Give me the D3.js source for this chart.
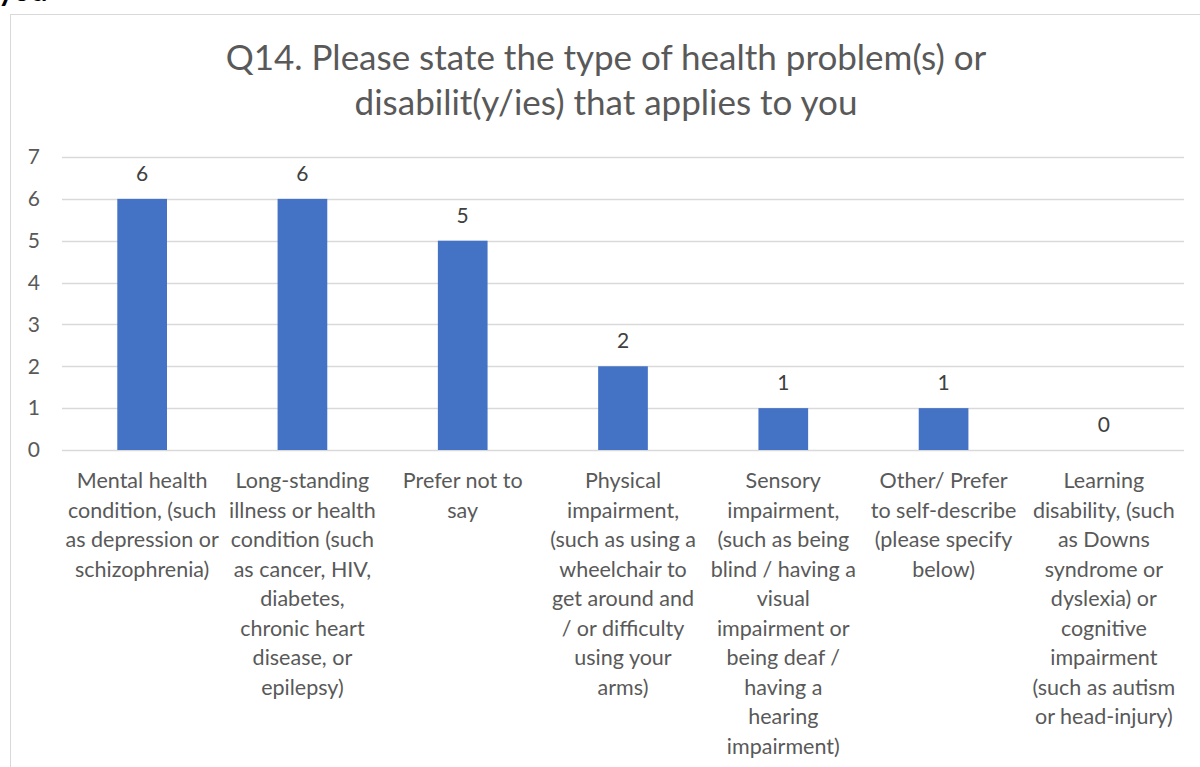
<!DOCTYPE html>
<html>
<head>
<meta charset="utf-8">
<script src="https://cdn.jsdelivr.net/npm/d3@7"></script>
<style>
  body { margin: 0; background: #fff; }
  svg { display: block; font-family: Lato, "Open Sans", sans-serif; }
</style>
</head>
<body>
<svg id="chart" width="1200" height="767"></svg>
<script>
var titleLines = ['Q14. Please state the type of health problem(s) or', 'disabilit(y/ies) that applies to you'];

var categories = [
  ['Mental health', 'condition, (such', 'as depression or', 'schizophrenia)'],
  ['Long-standing', 'illness or health', 'condition (such', 'as cancer, HIV,', 'diabetes,', 'chronic heart', 'disease, or', 'epilepsy)'],
  ['Prefer not to', 'say'],
  ['Physical', 'impairment,', '(such as using a', 'wheelchair to', 'get around and', '/ or difficulty', 'using your', 'arms)'],
  ['Sensory', 'impairment,', '(such as being', 'blind / having a', 'visual', 'impairment or', 'being deaf /', 'having a', 'hearing', 'impairment)'],
  ['Other/ Prefer', 'to self-describe', '(please specify', 'below)'],
  ['Learning', 'disability, (such', 'as Downs', 'syndrome or', 'dyslexia) or', 'cognitive', 'impairment', '(such as autism', 'or head-injury)']
];
var values = [6, 6, 5, 2, 1, 1, 0];
var yTicks = [0, 1, 2, 3, 4, 5, 6, 7];

var svg = d3.select('#chart');
var width = 1200, height = 767;

// the heading of the page above, mostly cut off
svg.append('text')
  .attr('x', -2).attr('y', 1)
  .attr('font-size', 30).attr('font-weight', 'bold')
  .attr('fill', '#000')
  .text('you');

// chart frame
svg.append('rect')
  .attr('x', 10.5).attr('y', 14.5)
  .attr('width', 1200).attr('height', 800)
  .attr('fill', '#fff').attr('stroke', '#d9d9d9');

// title
svg.append('g').selectAll('text')
  .data(titleLines)
  .enter().append('text')
  .attr('x', 606).attr('y', (d, i) => 70 + i * 45)
  .attr('text-anchor', 'middle')
  .attr('font-size', 35)
  .attr('fill', '#595959')
  .text(d => d);

var margin = {left: 62, right: 16};
var x = d3.scaleBand()
  .domain(d3.range(categories.length))
  .range([margin.left, width - margin.right])
  .paddingInner(0.69).paddingOuter(0.345);
var y = d3.scaleLinear().domain([0, 7]).range([450, 157]);

// gridlines
svg.append('g').selectAll('line')
  .data(yTicks)
  .enter().append('line')
  .attr('x1', margin.left).attr('x2', width - margin.right)
  .attr('y1', d => Math.round(y(d)) + 0.5).attr('y2', d => Math.round(y(d)) + 0.5)
  .attr('stroke', '#d9d9d9').attr('stroke-width', 1.3);

// y axis labels
var yAxis = d3.axisLeft(y).tickValues(yTicks).tickFormat(d3.format('d')).tickSize(0).tickPadding(0);
var yg = svg.append('g').attr('transform', 'translate(40,0)').call(yAxis);
yg.select('.domain').remove();
yg.selectAll('text')
  .attr('font-family', 'Lato, sans-serif')
  .attr('font-size', 21).attr('fill', '#595959');

// bars
svg.append('g').selectAll('rect')
  .data(values)
  .enter().append('rect')
  .attr('x', (d, i) => x(i))
  .attr('y', d => y(d))
  .attr('width', x.bandwidth())
  .attr('height', d => y(0) - y(d))
  .attr('fill', '#4472c4');

// data labels
svg.append('g').selectAll('text')
  .data(values)
  .enter().append('text')
  .attr('x', (d, i) => x(i) + x.bandwidth() / 2)
  .attr('y', d => y(d) - 18)
  .attr('text-anchor', 'middle')
  .attr('font-size', 21).attr('fill', '#404040')
  .text(d => d);

// category labels
var catG = svg.append('g').selectAll('text')
  .data(categories)
  .enter().append('text')
  .attr('text-anchor', 'middle')
  .attr('font-size', 21.5).attr('fill', '#595959');
catG.selectAll('tspan')
  .data((d, i) => d.map(line => ({line: line, i: i})))
  .enter().append('tspan')
  .attr('x', d => x(d.i) + x.bandwidth() / 2)
  .attr('y', (d, j) => 488 + j * 29.5)
  .text(d => d.line);
</script>
</body>
</html>
